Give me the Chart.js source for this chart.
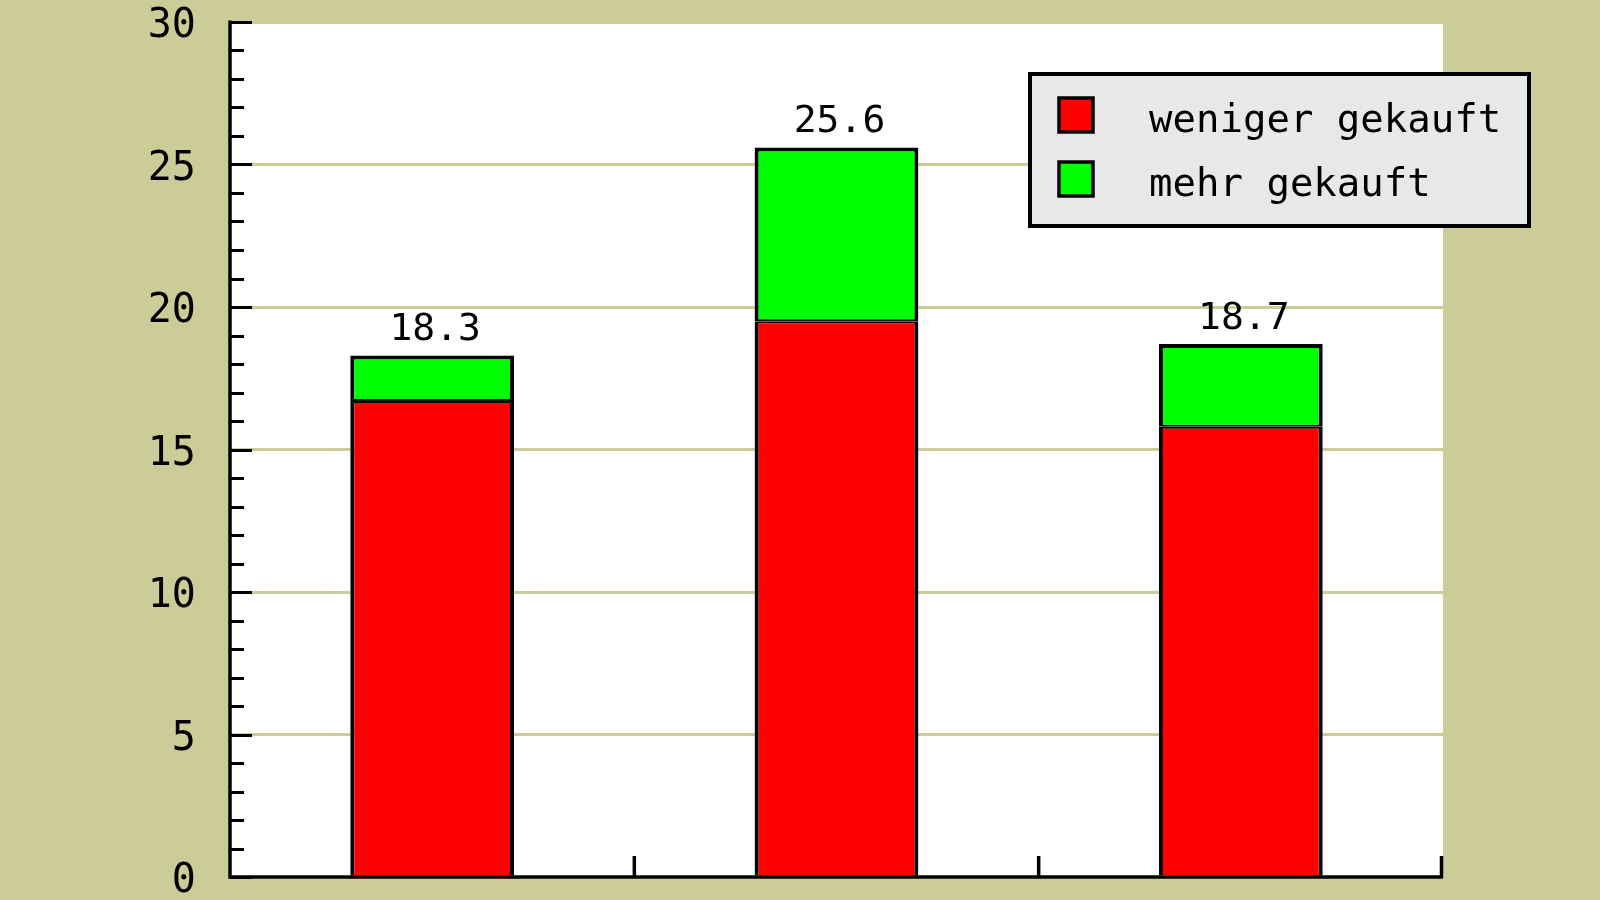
<!DOCTYPE html>
<html>
<head>
<meta charset="utf-8">
<script src="https://cdn.jsdelivr.net/npm/chart.js@4.4.0/dist/chart.umd.min.js"></script>
<style>
  html, body { margin: 0; padding: 0; background: #cccc99; }
  canvas { display: block; }
</style>
</head>
<body>
<canvas id="kauf-chart" width="1600" height="900"></canvas>
<script>
"use strict";

var categories = ['1', '2', '3'];
var wenigerGekauft = [16.7, 19.5, 15.8];
var mehrGekauft = [1.6, 6.1, 2.9];
var yTicks = [0, 5, 10, 15, 20, 25, 30];

var bg = '#cccc99';
var monoFont = "'DejaVu Sans Mono', 'Liberation Mono', monospace";

// background, white plot area, ticks, value labels and the legend box
var decoPlugin = {
    id: 'deco',
    beforeDraw: function(chart){
        var ctx = chart.ctx, a = chart.chartArea;
        ctx.save();
        ctx.fillStyle = bg;
        ctx.fillRect(0, 0, chart.width, chart.height);
        ctx.fillStyle = '#ffffff';
        ctx.fillRect(a.left, a.top + 2, a.right - a.left, a.bottom - a.top - 2);
        ctx.restore();
    },
    afterDraw: function(chart){
        var ctx = chart.ctx, a = chart.chartArea;
        var ys = chart.scales.y, xs = chart.scales.x;
        ctx.save();
        ctx.strokeStyle = '#000';
        ctx.lineWidth = 3.5;

        // axis lines
        ctx.beginPath();
        ctx.moveTo(a.left, a.top - 1.5);
        ctx.lineTo(a.left, a.bottom);
        ctx.lineTo(a.right, a.bottom);
        ctx.stroke();

        // y ticks, pointing inwards
        ctx.lineWidth = 3;
        ys.ticks.forEach(function(t){
            var py = Math.round(ys.getPixelForValue(t.value)) + 0.5;
            var len = (yTicks.indexOf(t.value) >= 0) ? 22 : 14;
            ctx.beginPath();
            ctx.moveTo(a.left, py);
            ctx.lineTo(a.left + len, py);
            ctx.stroke();
        });

        // x ticks at category boundaries
        ctx.lineWidth = 3.5;
        for (var i = 0; i < categories.length; i++) {
            var bx = (i < categories.length - 1)
                ? (xs.getPixelForValue(i) + xs.getPixelForValue(i + 1)) / 2
                : a.right - 1.5;
            ctx.beginPath();
            ctx.moveTo(bx, a.bottom);
            ctx.lineTo(bx, a.bottom - 21);
            ctx.stroke();
        }

        // totals above the bars
        ctx.fillStyle = '#000';
        ctx.font = '38px ' + monoFont;
        ctx.textAlign = 'center';
        ctx.textBaseline = 'alphabetic';
        categories.forEach(function(c, i){
            var total = wenigerGekauft[i] + mehrGekauft[i];
            var py = ys.getPixelForValue(total);
            ctx.fillText(total.toFixed(1), xs.getPixelForValue(i) + 3, py - 15);
        });

        // legend
        var lx = a.right - 413, ly = 74, lw = 499, lh = 152;
        ctx.lineWidth = 4;
        ctx.fillStyle = '#e8e8e8';
        ctx.fillRect(lx, ly, lw, lh);
        ctx.strokeRect(lx, ly, lw, lh);
        ctx.lineWidth = 3.5;
        ctx.font = '39px ' + monoFont;
        ctx.textAlign = 'left';
        chart.data.datasets.forEach(function(ds, k){
            var rowY = ly + 24 + k * 64;
            ctx.fillStyle = ds.backgroundColor;
            ctx.fillRect(lx + 29, rowY, 34, 34);
            ctx.strokeRect(lx + 29, rowY, 34, 34);
            ctx.fillStyle = '#000';
            ctx.fillText(ds.label, lx + 119, rowY + 34);
        });
        ctx.restore();
    }
};

new Chart(document.getElementById('kauf-chart').getContext('2d'), {
    type: 'bar',
    data: {
        labels: categories,
        datasets: [{
            label: 'weniger gekauft',
            data: wenigerGekauft,
            backgroundColor: '#ff0000',
            borderColor: '#000',
            borderWidth: {top: 2, left: 4, right: 4, bottom: 0},
            borderSkipped: false
        }, {
            label: 'mehr gekauft',
            data: mehrGekauft,
            backgroundColor: '#00ff00',
            borderColor: '#000',
            borderWidth: {top: 4, left: 4, right: 4, bottom: 2},
            borderSkipped: false
        }]
    },
    options: {
        responsive: false,
        animation: false,
        devicePixelRatio: 1,
        barPercentage: 0.405,
        categoryPercentage: 1,
        layout: {
            padding: {left: 0, right: 157, top: 22, bottom: 23}
        },
        plugins: {
            legend: { display: false },
            tooltip: { enabled: false }
        },
        scales: {
            x: {
                stacked: true,
                display: false
            },
            y: {
                stacked: true,
                min: 0,
                max: 30,
                afterFit: function(scale){ scale.width = 230; },
                border: { display: false },
                grid: {
                    drawTicks: false,
                    lineWidth: 3,
                    color: function(c){
                        var v = c.tick ? c.tick.value : -1;
                        return (v > 0 && v < 30 && v % 5 === 0) ? bg : 'rgba(0,0,0,0)';
                    }
                },
                ticks: {
                    stepSize: 1,
                    autoSkip: false,
                    padding: 10,
                    labelOffset: 5,
                    color: '#000',
                    font: { family: monoFont, size: 40, lineHeight: 0.5 },
                    callback: function(v){
                        // trailing space keeps the gap to the axis
                        return yTicks.indexOf(v) >= 0 ? String(v) + ' ' : '';
                    }
                }
            }
        }
    },
    plugins: [decoPlugin]
});
</script>
</body>
</html>
